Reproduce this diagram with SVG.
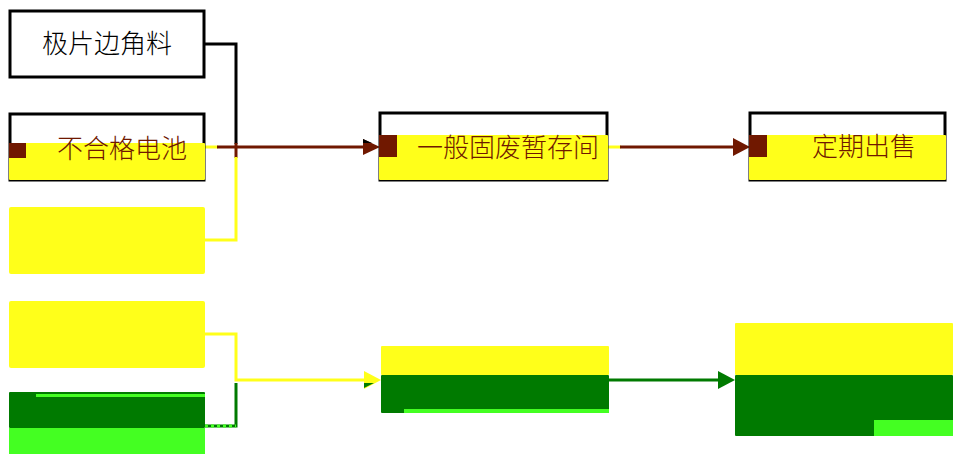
<svg xmlns="http://www.w3.org/2000/svg" width="953" height="454" viewBox="0 0 953 454">
<style>
.box{fill:#ffffff;stroke:#000000;stroke-width:3}
.t{font-family:"Noto Sans CJK SC","Noto Sans",sans-serif;font-size:26px;text-anchor:middle;font-weight:300}
.tk{fill:#000000}
.tr{fill:#701800}
.y{fill:#ffff1a}
.dg{fill:#007a00}
.lg{fill:#44ff22}
.mk{fill:#701800}
.c{fill:none;stroke-width:3}
</style>
<rect width="953" height="454" fill="#ffffff"/>
<g id="connectors">
<polyline class="c" stroke="#000000" points="204,44 236,44 236,144"/>
<line class="c" stroke="#ffff1a" x1="205" y1="147" x2="218" y2="147"/>
<line class="c" stroke="#701800" x1="217" y1="147" x2="365" y2="147"/>
<polygon points="363,139 380,147 363,155" fill="#701800"/>
<polygon points="363,139 372,143 363,143" fill="#000000"/>
<line class="c" stroke="#701800" x1="236" y1="143" x2="236" y2="158"/>
<polyline class="c" stroke="#ffff1a" points="236,157 236,240 205,240"/>
<line class="c" stroke="#ffff1a" x1="607" y1="147" x2="621" y2="147"/>
<line class="c" stroke="#701800" x1="620" y1="147" x2="735" y2="147"/>
<polygon points="733,138 750,147 733,156" fill="#701800"/>
<polyline class="c" stroke="#ffff1a" points="205,334 236,334 236,380 365,380"/>
<polygon points="364,371 381,380 364,389" fill="#ffff1a"/>
<polygon points="364,383 374,383 364,388" fill="#007a00"/>
<polyline class="c" stroke="#007a00" points="236,383 236,426 205,426"/>
<line stroke="#44ff22" stroke-width="3" stroke-dasharray="3,3" x1="205" y1="426" x2="236" y2="426"/>
<line class="c" stroke="#007a00" x1="609" y1="380" x2="720" y2="380"/>
<polygon points="718,371 735,380 718,389" fill="#007a00"/>
</g>
<g id="n1">
<rect class="box" x="10" y="11" width="194" height="66"/>
<text class="t tk" x="107" y="53">极片边角料</text>
</g>
<g id="n2">
<rect class="box" x="10" y="114" width="194" height="66"/>
<rect class="y" x="9" y="143" width="196" height="37" rx="1"/>
<rect class="mk" x="9" y="143" width="17" height="15"/>
<text class="t tr" x="122" y="158">不合格电池</text>
</g>
<g id="n3">
<rect class="y" x="9" y="207" width="196" height="67" rx="2"/>
</g>
<g id="n4">
<rect class="y" x="9" y="301" width="196" height="67" rx="2"/>
</g>
<g id="n5">
<rect class="dg" x="9" y="392" width="196" height="36" rx="1"/>
<rect class="lg" x="36" y="394" width="169" height="3"/>
<rect class="lg" x="9" y="428" width="196" height="26"/>
</g>
<g id="n6">
<rect class="box" x="380" y="113" width="227" height="67"/>
<rect class="y" x="379" y="135" width="229" height="45" rx="1"/>
<rect class="mk" x="379" y="135" width="18" height="22"/>
<text class="t tr" x="508" y="157">一般固废暂存间</text>
</g>
<g id="n7">
<rect class="box" x="750" y="113" width="195" height="67"/>
<rect class="y" x="749" y="135" width="197" height="45" rx="1"/>
<rect class="mk" x="749" y="135" width="18" height="22"/>
<text class="t tr" x="864" y="156">定期出售</text>
</g>
<g id="n8">
<rect class="y" x="381" y="346" width="228" height="29" rx="1"/>
<rect class="dg" x="381" y="375" width="228" height="38" rx="1"/>
<rect class="lg" x="404" y="409" width="205" height="4"/>
</g>
<g id="n9">
<rect class="y" x="735" y="323" width="218" height="52" rx="1"/>
<rect class="dg" x="735" y="375" width="218" height="61" rx="1"/>
<rect class="lg" x="874" y="420" width="79" height="16"/>
</g>
</svg>
